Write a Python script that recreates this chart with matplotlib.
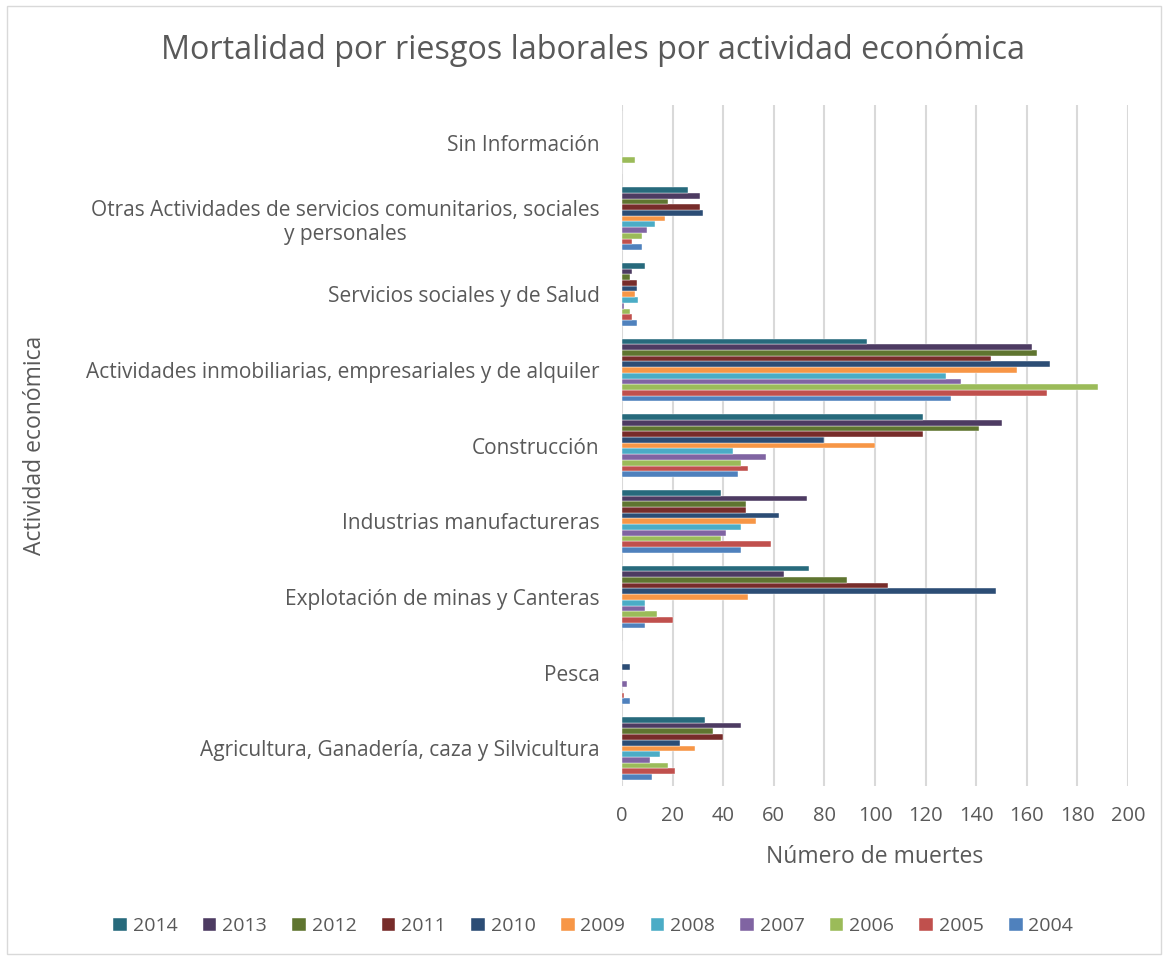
import numpy as np
import matplotlib.pyplot as plt
from matplotlib.patches import Rectangle

# =====================================
# Datos
# =====================================

actividades = [
    "Agricultura, Ganadería, caza y Silvicultura",
    "Pesca",
    "Explotación de minas y Canteras",
    "Industrias manufactureras",
    "Construcción",
    "Actividades inmobiliarias, empresariales y de alquiler",
    "Servicios sociales y de Salud",
    "Otras Actividades de servicios comunitarios, sociales\ny personales",
    "Sin Información",
]

anios = ["2004", "2005", "2006", "2007", "2008", "2009",
         "2010", "2011", "2012", "2013", "2014"]

m2004 = [12, 3, 9, 47, 46, 130, 6, 8, 0]
m2005 = [21, 1, 20, 59, 50, 168, 4, 4, 0]
m2006 = [18, 0, 14, 39, 47, 188, 3, 8, 5]
m2007 = [11, 2, 9, 41, 57, 134, 1, 10, 0]
m2008 = [15, 0, 9, 47, 44, 128, 6.5, 13, 0]
m2009 = [29, 0, 50, 53, 100, 156, 5, 17, 0]
m2010 = [23, 3, 148, 62, 80, 169, 6, 32, 0]
m2011 = [40, 0, 105, 49, 119, 146, 6, 31, 0]
m2012 = [36, 0, 89, 49, 141, 164, 3, 18, 0]
m2013 = [47, 0, 64, 73, 150, 162, 4, 31, 0]
m2014 = [33, 0, 74, 39, 119, 97, 9, 26, 0]

colores = ["#4F81BD", "#C0504D", "#9BBB59", "#8064A2", "#4BACC6", "#F79646",
           "#2C4D75", "#772C2A", "#5F7530", "#4D3B62", "#276A7C"]

series = [m2004, m2005, m2006, m2007, m2008, m2009,
          m2010, m2011, m2012, m2013, m2014]

# =====================================
# Grafico
# =====================================

plt.rcParams['font.family'] = ['Open Sans', 'DejaVu Sans']
gris = "#595959"

fig = plt.figure(figsize=(11.68, 9.6), dpi=100)
ax = fig.add_axes([0.5325, 0.181, 0.4333, 0.7096])

y = np.arange(len(actividades))
alto = 0.0755
n = len(series)
for i, (vals, col, lab) in enumerate(zip(series, colores, anios)):
    off = (i - (n - 1) / 2) * alto
    ax.barh(y + off, vals, height=alto, color=col, label=lab,
            edgecolor="white", linewidth=0.3, zorder=3)

ax.set_xlim(0, 200)
ax.set_ylim(-0.5, len(actividades) - 0.5)
ax.set_xticks(np.arange(0, 201, 20))
ax.set_yticks(y)
ax.set_yticklabels(actividades, multialignment="center")
ax.grid(axis="x", color="#D9D9D9", linewidth=1.5, zorder=0)
ax.set_axisbelow(True)
for s in ax.spines.values():
    s.set_visible(False)
ax.tick_params(axis="both", length=0, colors=gris)
ax.tick_params(axis="y", pad=16, labelsize=15)
ax.tick_params(axis="x", pad=14, labelsize=14.5)

ax.set_xlabel("Número de muertes", fontsize=16.5, color=gris, labelpad=14)
fig.text(0.03, 0.536, "Actividad económica", rotation=90, fontsize=16.5,
         color=gris, ha="center", va="center")
fig.text(0.508, 0.948, "Mortalidad por riesgos laborales por actividad económica",
         fontsize=23.3, color=gris, ha="center", va="center")

handles, labels = ax.get_legend_handles_labels()
fig.legend(handles[::-1], labels[::-1], loc="center", bbox_to_anchor=(0.508, 0.035),
           ncol=11, frameon=False, fontsize=14, labelcolor=gris,
           handlelength=0.7, handleheight=0.7, handletextpad=0.3,
           columnspacing=1.3)

fig.patches.append(Rectangle((0.006, 0.006), 0.988, 0.988, transform=fig.transFigure,
                             fill=False, edgecolor="#D9D9D9", linewidth=1))

plt.savefig("out.png", dpi=100)
plt.close()
